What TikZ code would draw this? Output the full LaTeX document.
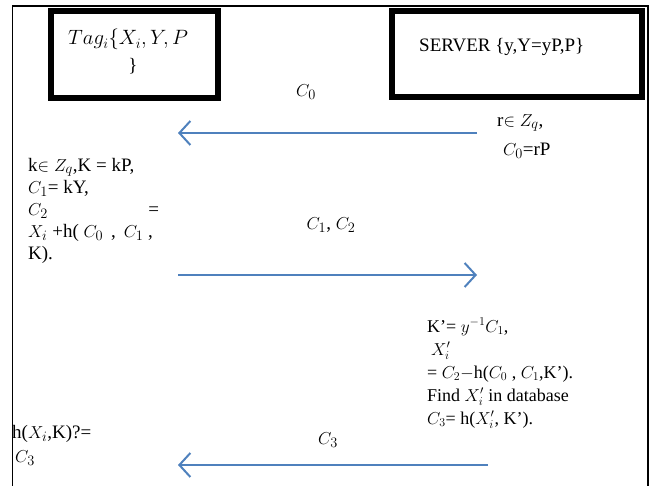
\documentclass[tikz,border=0pt]{standalone}
\usepackage{fontspec}
\setmainfont{Liberation Serif}
\usetikzlibrary{arrows.meta}
\definecolor{arrowblue}{RGB}{79,129,189}
\begin{document}
\begin{tikzpicture}[x=1pt,y=-1pt,font=\fontsize{19}{22}\selectfont,
  thickbox/.style={draw,line width=6pt,inner sep=0pt},
  msg/.style={draw=arrowblue,line width=2pt,-{Straight Barb[length=11pt,width=24pt,line width=2pt]}},
  txt/.style={inner sep=0pt,anchor=north west,align=left},
  lbl/.style={inner sep=0pt}]
\useasboundingbox (0,0) rectangle (650,486);
% outer frame
\draw[line width=1.5pt] (12.5,486) -- (12.5,6) -- (648,6) -- (648,486);
% party boxes
\node[thickbox,minimum width=167pt,minimum height=87pt] (tag) at (134.5,54.5) {};
\node[lbl,anchor=base west,font=\fontsize{21}{24}\selectfont] (tagtxt) at (68,45) {$Tag_i\{X_i,Y,P$};
\node[lbl] (tagbrace) at (133,66) {\}};
\node[thickbox,minimum width=250pt,minimum height=86pt] (server) at (517,54) {};
\node[lbl,anchor=base west] (servertxt) at (419,52) {SERVER \{y,Y=yP,P\}};
% message labels
\node[lbl] (c0) at (306,92) {$C_0$};
\node[lbl] (c12) at (331,225) {$C_1$, $C_2$};
\node[lbl] (c3) at (328,440) {$C_3$};
% server step 1
\node[txt] (s1) at (497,114) {r$\in Z_q$,\\[7pt]\hspace*{6pt}$C_0$=rP};
% tag step
\node[txt] (t1) at (28,158) {k$\in Z_q$,K = kP,\\$C_1$= kY,\\\makebox[131pt][l]{$C_2$\hfill=}\\$X_i$ +h( $C_0$ \,, \,$C_1$ ,\\K).};
% server step 2
\node[txt,font=\fontsize{18}{23}\selectfont] (s2) at (427,318) {K'= $y^{-1}C_1$,\\\hspace*{4pt}$X_i'$\\= $C_2$$-$h($C_0$ , $C_1$,K').\\Find $X_i'$ in database\\$C_3$= h($X_i'$, K').};
% tag check
\node[txt] (t2) at (12,425) {h($X_i$,K)?=\\[2pt]\hspace*{3pt}$C_3$};
% arrows
\coordinate (a1s) at (477,133);
\coordinate (a1e) at (178,133);
\coordinate (a2s) at (178,275);
\coordinate (a2e) at (477,275);
\coordinate (a3s) at (488,465);
\coordinate (a3e) at (178,465);
\draw[msg] (a1s) -- (a1e);
\draw[msg] (a2s) -- (a2e);
\draw[msg] (a3s) -- (a3e);
\end{tikzpicture}
\end{document}
